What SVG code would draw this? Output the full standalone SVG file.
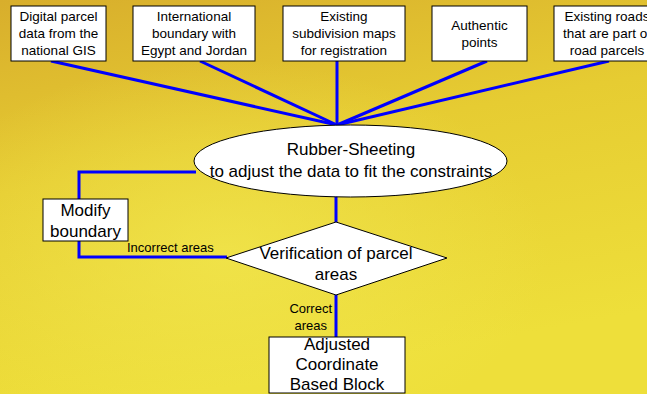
<svg xmlns="http://www.w3.org/2000/svg" width="647" height="394" viewBox="0 0 647 394">
<defs>
<linearGradient id="bg" x1="0" y1="0" x2="0.3" y2="1">
<stop offset="0" stop-color="#d8ae2c"/>
<stop offset="0.45" stop-color="#e6cc32"/>
<stop offset="1" stop-color="#eedf3a"/>
</linearGradient>
<radialGradient id="hl" cx="0.35" cy="0.65" r="0.5">
<stop offset="0" stop-color="#f2e850" stop-opacity="0.7"/>
<stop offset="1" stop-color="#f2e850" stop-opacity="0"/>
</radialGradient>
<style>
.box{fill:#fff;stroke:#000;stroke-width:1}
.t{font-family:"Liberation Sans",Arial,sans-serif;font-size:13.5px;text-anchor:middle;fill:#000}
.tl{font-family:"Liberation Sans",Arial,sans-serif;font-size:17px;text-anchor:middle;fill:#000}
.ts{font-family:"Liberation Sans",Arial,sans-serif;font-size:13px;fill:#000}
.c{fill:none;stroke:#0000ff;stroke-width:3}
</style>
</defs>
<rect width="647" height="394" fill="url(#bg)"/>
<rect width="647" height="394" fill="url(#hl)"/>
<g id="connectors">
<line class="c" x1="51" y1="61" x2="337" y2="125"/>
<line class="c" x1="200" y1="61" x2="337" y2="125"/>
<line class="c" x1="337" y1="61" x2="337" y2="125"/>
<line class="c" x1="487" y1="61" x2="337" y2="125"/>
<line class="c" x1="609" y1="61" x2="337" y2="125"/>
<polyline class="c" points="196,172 79,172 79,199"/>
<polyline class="c" points="79,241 79,257 227,257"/>
<line class="c" x1="336" y1="196" x2="336" y2="222"/>
<line class="c" x1="336" y1="295" x2="336" y2="337"/>
<text class="ts" x="127" y="252">Incorrect areas</text>
<text class="ts" x="332" y="313" text-anchor="end">Correct</text>
<text class="ts" x="327" y="330" text-anchor="end">areas</text>
</g>
<g id="n1">
<rect class="box" x="11" y="6" width="95" height="55"/>
<text class="t" x="58.5" y="21">Digital parcel</text>
<text class="t" x="58.5" y="38">data from the</text>
<text class="t" x="58.5" y="55">national GIS</text>
</g>
<g id="n2">
<rect class="box" x="133" y="6" width="122" height="55"/>
<text class="t" x="194" y="21">International</text>
<text class="t" x="194" y="38">boundary with</text>
<text class="t" x="194" y="55">Egypt and Jordan</text>
</g>
<g id="n3">
<rect class="box" x="283" y="6" width="122" height="55"/>
<text class="t" x="344" y="21">Existing</text>
<text class="t" x="344" y="38">subdivision maps</text>
<text class="t" x="344" y="55">for registration</text>
</g>
<g id="n4">
<rect class="box" x="432" y="6" width="95" height="55"/>
<text class="t" x="479.5" y="30">Authentic</text>
<text class="t" x="479.5" y="47">points</text>
</g>
<g id="n5">
<rect class="box" x="554" y="6" width="106" height="55"/>
<text class="t" x="607" y="21">Existing roads</text>
<text class="t" x="607" y="38">that are part of</text>
<text class="t" x="607" y="55">road parcels</text>
</g>
<g id="n6">
<ellipse class="box" cx="350.5" cy="161" rx="156.5" ry="36"/>
<text class="tl" x="351" y="155">Rubber-Sheeting</text>
<text class="tl" x="351" y="177">to adjust the data to fit the constraints</text>
</g>
<g id="n7">
<rect class="box" x="43" y="199" width="85" height="42"/>
<text class="tl" x="85.5" y="216">Modify</text>
<text class="tl" x="85.5" y="237">boundary</text>
</g>
<g id="n8">
<polygon class="box" points="336,222 447,258 336,295 226,258"/>
<text class="tl" x="336" y="259">Verification of parcel</text>
<text class="tl" x="336" y="280">areas</text>
</g>
<g id="n9">
<rect class="box" x="269" y="337" width="136" height="56"/>
<text class="tl" x="337" y="350">Adjusted</text>
<text class="tl" x="337" y="370">Coordinate</text>
<text class="tl" x="337" y="390">Based Block</text>
</g>
</svg>
